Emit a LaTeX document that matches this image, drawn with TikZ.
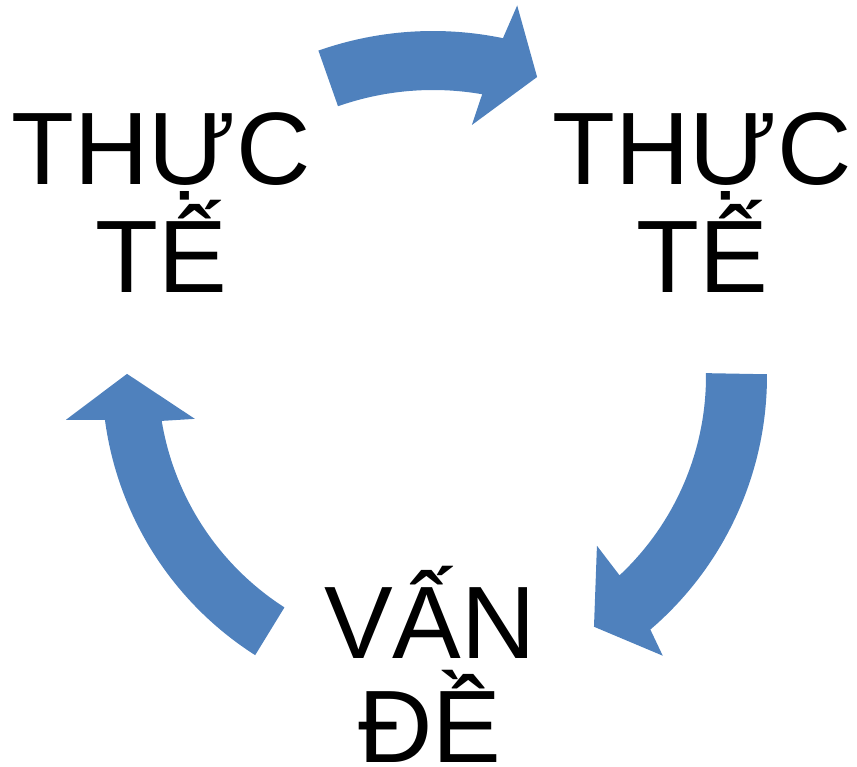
\documentclass[tikz,border=0pt]{standalone}
\usepackage{fontspec}
\setmainfont{Liberation Sans}
\definecolor{cyclefill}{RGB}{79,129,189}
\begin{document}
\begin{tikzpicture}[x=1pt,y=1pt,
  cyclearrow/.style={fill=cyclefill},
  cycletext/.style={font=\fontsize{103}{104}\selectfont, align=center,
    anchor=base, inner sep=0pt}]
\useasboundingbox (0,0) rectangle (857,-767);
\coordinate (C) at (433,-376);

% three curved block arrows around the common centre
\begin{scope}[shift={(C)}]
  % top arrow, pointing right
  \fill[cyclearrow] (109.4:345pt) arc[start angle=109.4, end angle=78.3, radius=345pt]
    -- (77.2:380pt) -- (70.8:316.6pt) -- (81.2:254pt) -- (80.1:286pt)
    arc[start angle=80.1, end angle=109.4, radius=286pt] -- cycle;
  % right arrow, pointing down-left
  \fill[cyclearrow] (0.3:334pt) arc[start angle=0.3, end angle=-49.4, radius=334pt]
    -- (-50.6:362pt) -- (-57.3:298pt) -- (-46:236pt) -- (-46.9:273pt)
    arc[start angle=-46.9, end angle=0.6, radius=273pt] -- cycle;
  % left arrow, pointing up
  \fill[cyclearrow] (237.5:331pt) arc[start angle=237.5, end angle=187.6, radius=331pt]
    -- (186.8:369.6pt) -- (179.6:306pt) -- (190.2:242pt) -- (189.4:275pt)
    arc[start angle=189.4, end angle=237.3, radius=275pt] -- cycle;
\end{scope}

% labels (base anchor sits on the last line)
\node[cycletext] (left)   at (161,-293) {THỰC\\TẾ};
\node[cycletext] (right)  at (702,-293) {THỰC\\TẾ};
\node[cycletext] (bottom) at (430,-762) {VẤN\\ĐỀ};
\end{tikzpicture}
\end{document}
